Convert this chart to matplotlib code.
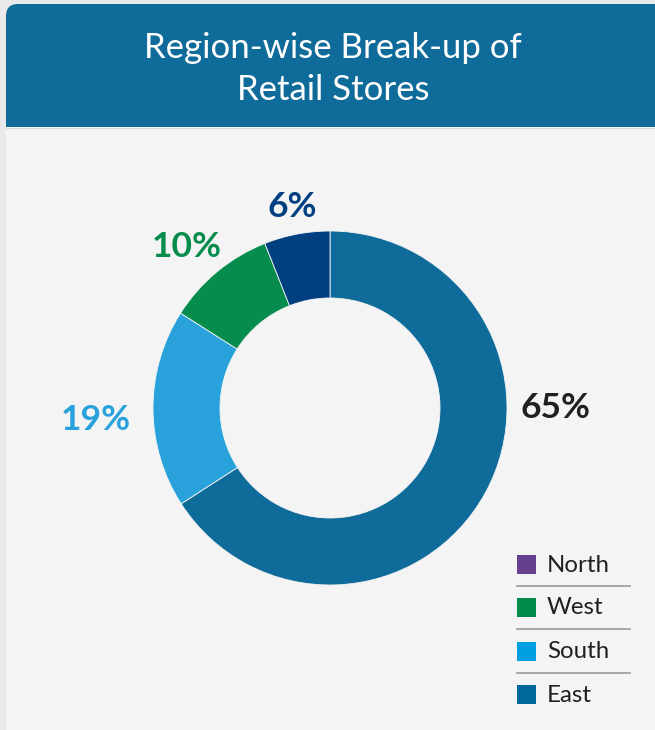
import matplotlib
matplotlib.use("Agg")
import matplotlib.pyplot as plt
from matplotlib.patches import FancyBboxPatch, Rectangle

# ---- data ----
categories = ["East", "South", "West", "North"]
values = [65.9, 18.1, 10.0, 6.0]
pct_labels = ["65%", "19%", "10%", "6%"]
slice_colors = ["#0f6b99", "#29a2dc", "#068c4c", "#003f80"]
label_colors = ["#231f20", "#29a2dc", "#068c4c", "#003f80"]
legend_order = ["North", "West", "South", "East"]
legend_colors = ["#673f8f", "#008a4a", "#009fe0", "#00679a"]
title = "Region-wise Break-up of\nRetail Stores"

W, H = 655, 730
FONT = "Lato"
fig = plt.figure(figsize=(W / 100, H / 100), dpi=100)
fig.patch.set_facecolor("#e9e9e9")

bg = fig.add_axes([0, 0, 1, 1])
bg.set_xlim(0, W)
bg.set_ylim(H, 0)
bg.axis("off")

# card
bg.add_patch(FancyBboxPatch((6, 4), W + 20, H + 20, boxstyle="round,pad=0,rounding_size=12",
                            facecolor="#0f6b99", edgecolor="none"))
bg.add_patch(Rectangle((6, 127), W, H, facecolor="#f4f4f4", edgecolor="none"))
bg.plot([6, W], [127.5, 127.5], color="#d8dde2", lw=0.8)
bg.text(333, 69, title, ha="center", va="center", color="white", fontsize=25,
        family=FONT, linespacing=1.42)

# donut
cx, cy, R = 330, 408, 177
ax = fig.add_axes([(cx - R) / W, (H - cy - R) / H, 2 * R / W, 2 * R / H])
wedges, _ = ax.pie(values, colors=slice_colors, startangle=90, counterclock=False,
                   radius=1, wedgeprops=dict(width=1 - 110 / 177, edgecolor="#f4f4f4", linewidth=0.6))
ax.set_xlim(-1, 1)
ax.set_ylim(-1, 1)
ax.set_aspect("auto")
ax.axis("off")

# percentage labels
label_pos = [(556, 408), (96, 420), (187, 247), (292, 207)]
for t, c, (x, y) in zip(pct_labels, label_colors, label_pos):
    bg.text(x, y, t, ha="center", va="center", color=c, fontsize=25.5,
            fontweight="bold", family=FONT)

# legend
ys = [564, 607, 651, 694]
for i, (name, col, y) in enumerate(zip(legend_order, legend_colors, ys)):
    bg.add_patch(Rectangle((517, y - 9), 19, 19, facecolor=col, edgecolor="none"))
    bg.text(547, y + 1, name, ha="left", va="center", color="#231f20", fontsize=17.3, family=FONT)
    if i < len(ys) - 1:
        bg.plot([517, 630], [y + 22, y + 22], color="#9a9a9a", lw=1.2)

fig.savefig("out.png", dpi=100, facecolor=fig.get_facecolor())
